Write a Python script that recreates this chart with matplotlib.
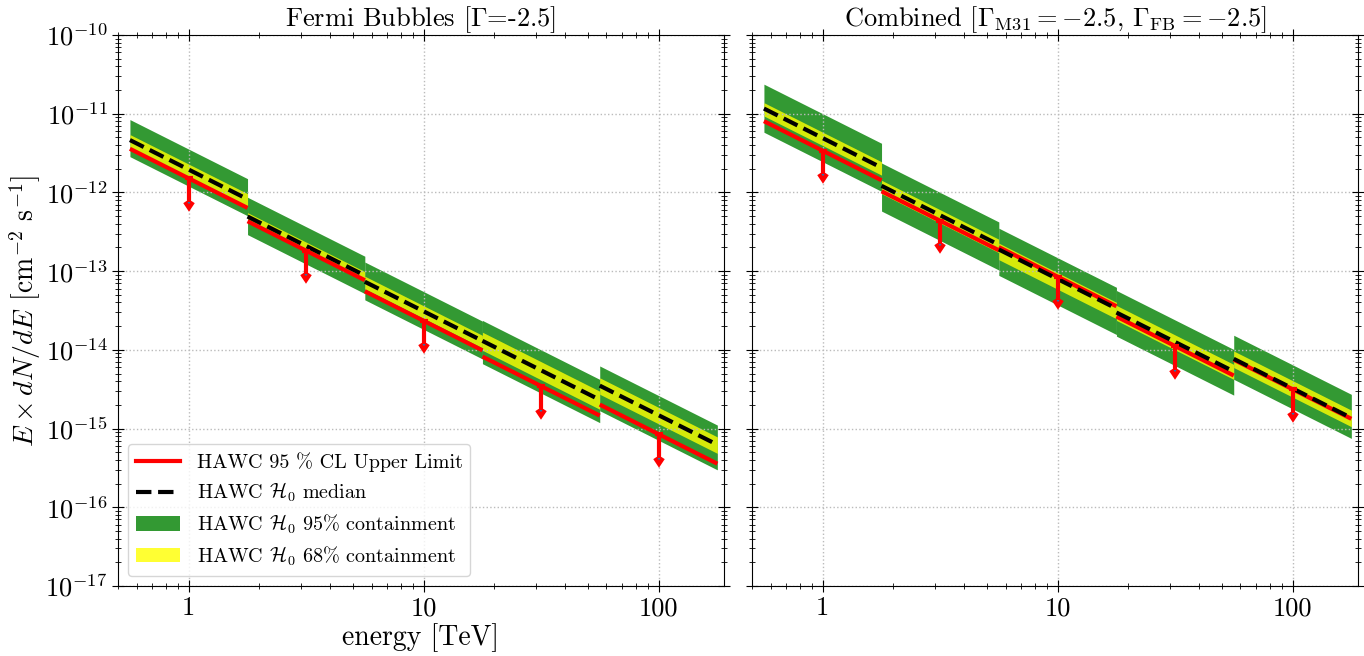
import numpy as np
import matplotlib
matplotlib.use('Agg')
import matplotlib.pyplot as plt
from matplotlib.lines import Line2D
from matplotlib.patches import Patch
from matplotlib.ticker import FixedLocator, FixedFormatter, LogFormatterSciNotation, NullFormatter

plt.rcParams['font.family'] = 'serif'
plt.rcParams['font.serif'] = ['cmr10', 'DejaVu Serif']
plt.rcParams['mathtext.fontset'] = 'cm'
plt.rcParams['axes.formatter.use_mathtext'] = True
plt.rcParams['axes.unicode_minus'] = False

# energy bins [TeV], half-decade wide
bin_edges = [0.562, 1.78, 5.62, 17.8, 56.2, 178.0]
bin_centers = [1.0, 3.16, 10.0, 31.6, 100.0]
index = -2.5  # dN/dE ~ E^index, so E dN/dE ~ E^(index+1)

# Fermi Bubbles, E dN/dE at bin centers [cm^-2 s^-1]
fb_ul = [1.51e-12, 1.82e-13, 2.34e-14, 3.47e-15, 8.5e-16]
fb_median = [1.95e-12, 2.09e-13, 3.09e-14, 5.5e-15, 1.48e-15]
fb_68_lo = [1.58e-12, 1.86e-13, 2.51e-14, 4.17e-15, 1.15e-15]
fb_68_hi = [2.29e-12, 2.34e-13, 3.63e-14, 7.08e-15, 1.86e-15]
fb_95_lo = [1.20e-12, 1.23e-13, 1.82e-14, 2.82e-15, 7.1e-16]
fb_95_hi = [3.55e-12, 3.67e-13, 5.5e-14, 1.0e-14, 2.63e-15]

# Combined (M31 + FB)
comb_ul = [3.39e-12, 4.37e-13, 8.5e-14, 1.12e-14, 3.16e-15]
comb_median = [4.9e-12, 5.13e-13, 7.94e-14, 1.26e-14, 3.24e-15]
comb_68_lo = [3.94e-12, 4.07e-13, 5.89e-14, 1.0e-14, 2.51e-15]
comb_68_hi = [5.82e-12, 6.03e-13, 9.55e-14, 1.55e-14, 4.07e-15]
comb_95_lo = [2.45e-12, 2.45e-13, 3.72e-14, 6.31e-15, 1.78e-15]
comb_95_hi = [1.0e-11, 1.0e-12, 1.48e-13, 2.4e-14, 6.46e-15]

x_ticks = [1, 10, 100]
x_ticklabels = ['1', '10', '100']
y_decades = np.arange(-17, -9)

green = 'green'
yellow = 'yellow'


def segment(i, norm):
    """Power-law segment across bin i, normalised at the bin center."""
    x = np.array([bin_edges[i], bin_edges[i+1]])
    y = norm * (x / bin_centers[i]) ** (index + 1)
    return x, y


def draw_panel(ax, ul, median, lo68, hi68, lo95, hi95):
    for i in range(len(bin_centers)):
        x, y_lo95 = segment(i, lo95[i])
        _, y_hi95 = segment(i, hi95[i])
        _, y_lo68 = segment(i, lo68[i])
        _, y_hi68 = segment(i, hi68[i])
        _, y_ul = segment(i, ul[i])
        _, y_med = segment(i, median[i])
        ax.fill_between(x, y_lo95, y_hi95, color=green, alpha=0.8, lw=0)
        ax.fill_between(x, y_lo68, y_hi68, color=yellow, alpha=0.8, lw=0)
        ax.plot(x, y_ul, c='red', lw=3, solid_capstyle='butt')
        ax.plot(x, y_med, c='k', lw=3, ls='--')
    ul = np.array(ul)
    ax.errorbar(bin_centers, ul, yerr=0.5 * ul, uplims=True, fmt='none',
                ecolor='red', elinewidth=3, capsize=3, capthick=3)

    ax.set_xscale('log')
    ax.set_yscale('log')
    ax.set_xlim(0.5, 190)
    ax.set_ylim(1e-17, 1e-10)

    x_minor = [m * 10.0**d for d in range(-1, 3) for m in range(2, 10)]
    x_minor = [v for v in x_minor if 0.5 <= v <= 190]
    ax.xaxis.set_major_locator(FixedLocator(x_ticks))
    ax.xaxis.set_major_formatter(FixedFormatter(x_ticklabels))
    ax.xaxis.set_minor_locator(FixedLocator(x_minor))
    ax.xaxis.set_minor_formatter(NullFormatter())

    y_major = [10.0**d for d in y_decades]
    y_minor = [m * 10.0**d for d in y_decades[:-1] for m in range(2, 10)]
    ax.yaxis.set_major_locator(FixedLocator(y_major))
    ax.yaxis.set_major_formatter(LogFormatterSciNotation())
    ax.yaxis.set_minor_locator(FixedLocator(y_minor))
    ax.yaxis.set_minor_formatter(NullFormatter())

    ax.tick_params(which='both', direction='inout', top=True, right=True, labelsize=19)
    ax.tick_params(which='major', length=8)
    ax.tick_params(which='minor', length=4)
    ax.grid(True, which='major', ls=':', c='#bbbbbb', lw=1)


fig = plt.figure(figsize=(13.64, 6.56), dpi=100)
ax1 = fig.add_axes([118/1364, 70/656, 606/1364, 551/656])
ax2 = fig.add_axes([752/1364, 70/656, 606/1364, 551/656])

draw_panel(ax1, fb_ul, fb_median, fb_68_lo, fb_68_hi, fb_95_lo, fb_95_hi)
draw_panel(ax2, comb_ul, comb_median, comb_68_lo, comb_68_hi, comb_95_lo, comb_95_hi)
ax2.tick_params(labelleft=False)

ax1.set_title(r'Fermi Bubbles [$\Gamma$=-2.5]', fontsize=19)
ax2.set_title(r'Combined [$\Gamma_{\rm M31}=-2.5$, $\Gamma_{\rm FB}=-2.5$]', fontsize=19)
ax1.set_xlabel('energy [TeV]', fontsize=20, labelpad=2)
ax1.set_ylabel(r'$E\times dN/dE$ [cm$^{-2}$ s$^{-1}$]', fontsize=20, labelpad=2)

handles = [Line2D([], [], c='red', lw=3),
           Line2D([], [], c='k', lw=3, ls='--'),
           Patch(facecolor=green, alpha=0.8, lw=0),
           Patch(facecolor=yellow, alpha=0.8, lw=0)]
labels = ['HAWC 95 % CL Upper Limit',
          r'HAWC $\mathcal{H}_0$ median',
          r'HAWC $\mathcal{H}_0$ 95% containment',
          r'HAWC $\mathcal{H}_0$ 68% containment']
ax1.legend(handles, labels, loc='lower left', fontsize=14.5, handlelength=2.2,
           labelspacing=0.42)

fig.savefig('out.png', dpi=100)
